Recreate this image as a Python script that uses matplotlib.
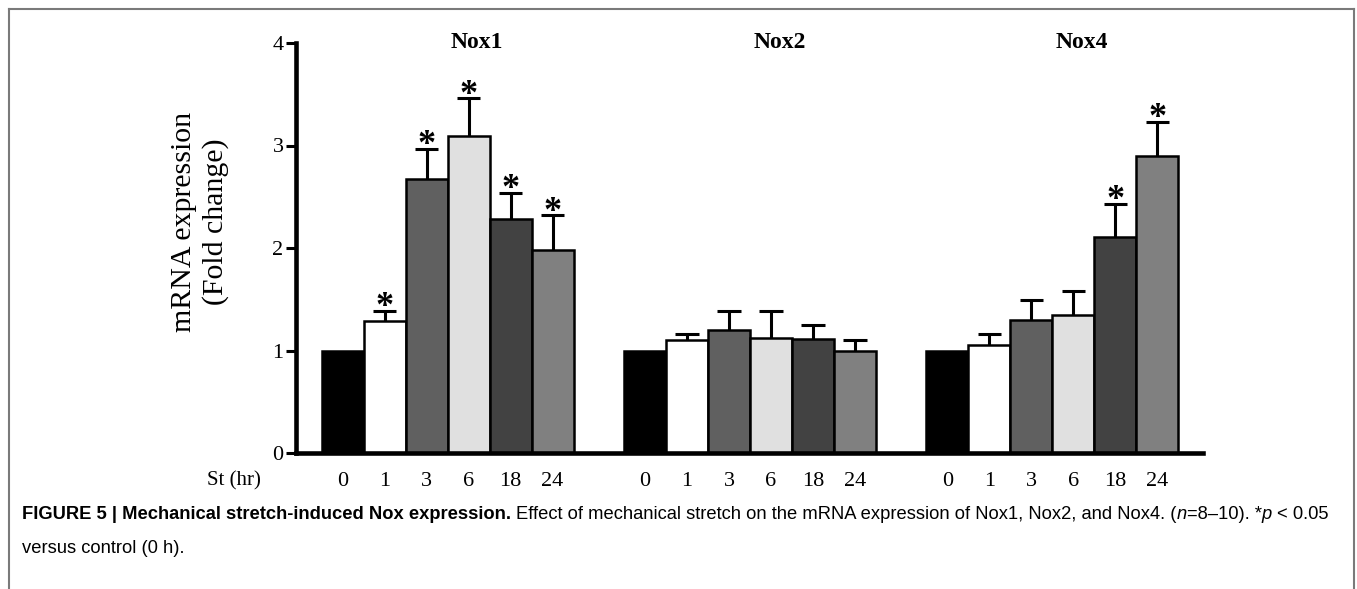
import matplotlib.pyplot as plt
from matplotlib.lines import Line2D
import numpy as np

plt.rcParams['font.family'] = ['Liberation Serif', 'DejaVu Serif']

# valores
genes = ['Nox1', 'Nox2', 'Nox4']
tiempos = ['0', '1', '3', '6', '18', '24']
colores = ['#000000', '#ffffff', '#606060', '#e0e0e0', '#424242', '#808080']

nox1_media = [1.0, 1.29, 2.67, 3.09, 2.28, 1.98]
nox1_err = [0.0, 0.10, 0.30, 0.37, 0.26, 0.34]
nox1_sig = [False, True, True, True, True, True]

nox2_media = [1.0, 1.10, 1.20, 1.12, 1.11, 1.00]
nox2_err = [0.0, 0.06, 0.19, 0.27, 0.14, 0.10]
nox2_sig = [False, False, False, False, False, False]

nox4_media = [1.0, 1.05, 1.30, 1.35, 2.11, 2.90]
nox4_err = [0.0, 0.11, 0.19, 0.23, 0.32, 0.33]
nox4_sig = [False, False, False, False, True, True]

medias = [nox1_media, nox2_media, nox4_media]
errores = [nox1_err, nox2_err, nox4_err]
sigs = [nox1_sig, nox2_sig, nox4_sig]

W, H = 1357, 589
fig = plt.figure(figsize=(W / 100, H / 100), dpi=100)

# ejes en pixeles de la imagen original
x0, x1, ytop, ybase = 296, 1203, 43, 453
ax = fig.add_axes([x0 / W, 1 - ybase / H, (x1 - x0) / W, (ybase - ytop) / H])

inicio = 0.61
paso_grupo = 7.2
xt_pos = []
xt_lab = []
for g in range(len(genes)):
    izq = inicio + g * paso_grupo + np.arange(len(tiempos))
    centros = izq + 0.5
    ax.bar(izq, medias[g], width=1.0, align='edge', color=colores,
           edgecolor='black', linewidth=1.8, zorder=2)
    for c, m, e, s in zip(centros, medias[g], errores[g], sigs[g]):
        if e > 0:
            ax.vlines(c, m, m + e, color='black', linewidth=2.2, zorder=3)
            ax.hlines(m + e, c - 0.28, c + 0.28, color='black', linewidth=2.2, zorder=3)
        if s:
            ax.annotate('*', (c, m + e), xytext=(0, -4), textcoords='offset points',
                        ha='center', va='baseline', fontsize=26, fontweight='bold')
    ax.text(centros.mean() + 0.7, 4.0, genes[g], ha='center', va='center',
            fontsize=17, fontweight='bold')
    xt_pos.extend(centros)
    xt_lab.extend(tiempos)

ax.set_xlim(0, (x1 - x0) / 42)
ax.set_ylim(0, 4)
ax.set_yticks([0, 1, 2, 3, 4])
ax.set_xticks(xt_pos)
ax.set_xticklabels(xt_lab)
ax.tick_params(axis='y', direction='out', length=7, width=2.2, labelsize=16, pad=2)
ax.tick_params(axis='x', length=0, labelsize=16, pad=14)
for lado in ['top', 'right']:
    ax.spines[lado].set_visible(False)
for lado in ['left', 'bottom']:
    ax.spines[lado].set_linewidth(3.3)
ax.patch.set_alpha(0)

fig.text(234 / W, 1 - 481 / H, 'St (hr)', ha='center', va='center', fontsize=15)
fig.text(200 / W, 1 - 222 / H, 'mRNA expression\n(Fold change)', rotation=90,
         ha='center', va='center', multialignment='center', fontsize=21.5,
         linespacing=1.25)

# marco gris
borde = '#7a7a7a'
fig.add_artist(Line2D([9 / W, 9 / W], [0, 1 - 9 / H], color=borde, lw=1.5))
fig.add_artist(Line2D([9 / W, 1354 / W], [1 - 9 / H, 1 - 9 / H], color=borde, lw=1.5))
fig.add_artist(Line2D([1354 / W, 1354 / W], [0, 1 - 9 / H], color=borde, lw=1.5))

# leyenda de la figura
sans = ['Liberation Sans', 'DejaVu Sans']
r = fig.canvas.get_renderer()
tam = 13.2

def ancho(texto, **kw):
    t = fig.text(0, 0, texto, fontsize=tam, family=sans, **kw)
    w = t.get_window_extent(renderer=r).width
    t.remove()
    return w

esp = ancho('a a') - ancho('aa')

partes = [
    ('FIGURE 5 | Mechanical stretch-induced Nox expression.', 'bold', 'normal', 1),
    ('Effect of mechanical stretch on the mRNA expression of Nox1, Nox2, and Nox4. (', 'normal', 'normal', 0),
    ('n', 'normal', 'italic', 0),
    ('=8\u201310). *', 'normal', 'normal', 0),
    ('p', 'normal', 'italic', 1),
    ('< 0.05', 'normal', 'normal', 0),
]
x = 22
y = 1 - 519 / H
for texto, peso, estilo, espacio in partes:
    t = fig.text(x / W, y, texto, fontsize=tam, family=sans, fontweight=peso,
                 fontstyle=estilo, va='baseline')
    x += t.get_window_extent(renderer=r).width + espacio * esp
fig.text(22 / W, 1 - 553 / H, 'versus control (0 h).', fontsize=tam, family=sans,
         va='baseline')

fig.savefig('out.png', dpi=100)
